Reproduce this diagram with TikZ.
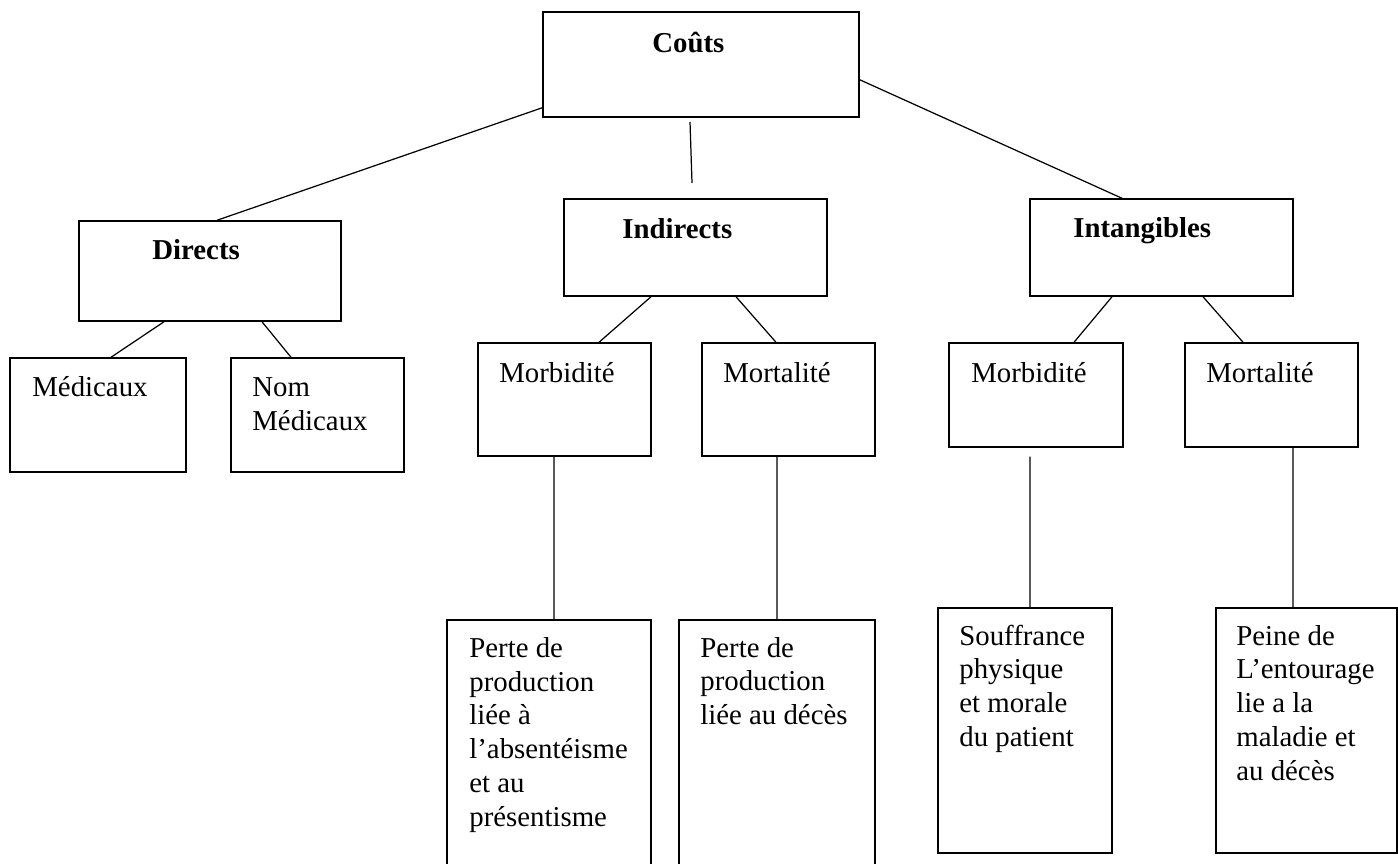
\documentclass[tikz,border=0pt]{standalone}
\usepackage{fontspec}
\setmainfont{Liberation Serif}
\usepackage{tikz}
\usetikzlibrary{positioning}

\begin{document}
\begin{tikzpicture}[x=0.02cm, y=-0.02cm,
    box/.style={rectangle, draw, line width=0.85pt, inner sep=0pt},
    txt/.style={anchor=base west, inner sep=0pt, align=left, font=\fontsize{16.4}{19.2}\selectfont},
    link/.style={line width=0.7pt}
  ]
    \useasboundingbox (0,0) rectangle (1398,863);

    % level 0 and 1
    \node (couts) [box, minimum width=6.32cm, minimum height=2.10cm] at (701,64.5) {};
    \node (directs) [box, minimum width=5.24cm, minimum height=2.00cm] at (210,271) {};
    \node (indirects) [box, minimum width=5.26cm, minimum height=1.94cm] at (695.5,247.5) {};
    \node (intangibles) [box, minimum width=5.26cm, minimum height=1.94cm] at (1161.5,247.5) {};

    % level 2
    \node (medicaux) [box, minimum width=3.52cm, minimum height=2.28cm] at (98,415) {};
    \node (nom_medicaux) [box, minimum width=3.46cm, minimum height=2.28cm] at (317.5,415) {};
    \node (morb_ind) [box, minimum width=3.46cm, minimum height=2.26cm] at (564.5,399.5) {};
    \node (mort_ind) [box, minimum width=3.46cm, minimum height=2.26cm] at (788.5,399.5) {};
    \node (morb_int) [box, minimum width=3.48cm, minimum height=2.08cm] at (1036,395) {};
    \node (mort_int) [box, minimum width=3.46cm, minimum height=2.08cm] at (1271.5,395) {};

    % level 3
    \node (perte_morb) [box, minimum width=4.08cm, minimum height=4.92cm] at (549,743) {};
    \node (perte_mort) [box, minimum width=3.92cm, minimum height=4.92cm] at (777,743) {};
    \node (souffrance) [box, minimum width=3.48cm, minimum height=4.90cm] at (1025,730.5) {};
    \node (peine) [box, minimum width=3.62cm, minimum height=4.90cm] at (1306.5,730.5) {};

    % texts (base = last line)
    \node (couts_txt) [txt] at (652,52) {\textbf{Coûts}};
    \node (directs_txt) [txt] at (152,259) {\textbf{Directs}};
    \node (indirects_txt) [txt] at (622,238) {\textbf{Indirects}};
    \node (intangibles_txt) [txt] at (1073,237) {\textbf{Intangibles}};
    \node (medicaux_txt) [txt] at (32,396) {Médicaux};
    \node (nom_medicaux_txt) [txt] at (252,430) {Nom\\Médicaux};
    \node (morb_ind_txt) [txt] at (499,382) {Morbidité};
    \node (mort_ind_txt) [txt] at (723,382) {Mortalité};
    \node (morb_int_txt) [txt] at (971,382) {Morbidité};
    \node (mort_int_txt) [txt] at (1206,382) {Mortalité};
    \node (perte_morb_txt) [txt] at (469,826) {Perte de\\production\\liée à\\l’absentéisme\\et au\\présentisme};
    \node (perte_mort_txt) [txt] at (700,724.6) {Perte de\\production\\liée au décès};
    \node (souffrance_txt) [txt] at (959,746.4) {Souffrance\\physique\\et morale\\du patient};
    \node (peine_txt) [txt] at (1236,780) {Peine de\\L’entourage\\lie a la\\maladie et\\au décès};

    % connectors
    \coordinate (mid_top) at (690,122);
    \coordinate (mid_bot) at (692,183);
    \draw [link] ([yshift=0.2cm]couts.south west) -- ([xshift=0.14cm]directs.north);
    \draw [link] (mid_top) -- (mid_bot);
    \draw [link] ([yshift=0.76cm]couts.south east) -- ([xshift=-0.79cm]intangibles.north);

    \draw [link] ([xshift=-0.92cm]directs.south) -- ([xshift=0.26cm]medicaux.north);
    \draw [link] ([xshift=1.04cm]directs.south) -- ([xshift=-0.53cm]nom_medicaux.north);
    \draw [link] ([xshift=-0.89cm]indirects.south) -- ([xshift=0.69cm]morb_ind.north);
    \draw [link] ([xshift=0.81cm]indirects.south) -- ([xshift=-0.25cm]mort_ind.north);
    \draw [link] ([xshift=-0.99cm]intangibles.south) -- ([xshift=0.76cm]morb_int.north);
    \draw [link] ([xshift=0.83cm]intangibles.south) -- ([xshift=-0.57cm]mort_int.north);

    \draw [link] ([xshift=-0.21cm]morb_ind.south) -- ([xshift=0.1cm]perte_morb.north);
    \draw [link] ([xshift=-0.23cm]mort_ind.south) -- (perte_mort.north);
    \draw [link] ([xshift=-0.12cm, yshift=-0.18cm]morb_int.south) -- ([xshift=0.1cm]souffrance.north);
    \draw [link] ([xshift=0.43cm]mort_int.south) -- ([xshift=-0.27cm]peine.north);

  \end{tikzpicture}
\end{document}
